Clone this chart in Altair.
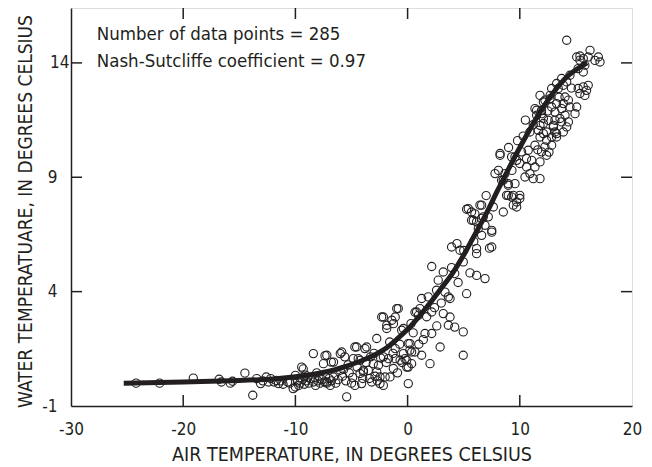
import altair as alt
import pandas as pd

# ---- observed points (air temperature, water temperature) ----
air_far_left = [-24.2, -22.1, -19.1, -16.8, -16.6, -15.8, -15.6, -14.5, -13.8, -13.45, -13.1, -12.6, -12.2,
                -11.9, -11.5, -11.1, -10.7, -12.9, -12.4, -11.7, -11.3, -10.5, -10.2, -10.0, -10.0]
water_far_left = [0.0, 0.0, 0.22, 0.17, 0.05, 0.0, 0.08, 0.44, -0.53, 0.2, -0.02, 0.27, 0.2,
                  0.05, -0.02, -0.05, 0.05, 0.1, 0.05, 0.12, 0.1, 0.0, -0.24, 0.34, -0.17]

air_cold = [-9.44, -9.3, -8.4, -7.36, -7.5, -6.8, -6.0, -9.8, -9.6, -9.4, -9.2, -9.0, -8.8, -8.6, -8.4, -8.2,
            -8.0, -7.8, -7.6, -7.4, -7.2, -7.0, -6.8, -6.6, -6.4, -6.2, -7.9, -8.9, -9.7, -6.9, -7.2, -6.6,
            -6.0, -7.2, -8.1, -9.1]
water_cold = [0.7, 0.62, 1.29, 1.2, 0.85, 0.92, 1.29, 0.1, 0.0, 0.15, -0.05, 0.1, 0.0, 0.2, 0.05, -0.1,
              0.1, 0.0, 0.15, 0.05, 0.0, 0.2, 0.1, 0.27, 0.0, 0.15, 0.3, 0.25, -0.1, -0.1, 0.05, 0.92,
              0.56, 1.22, 0.45, 0.35]

air_cool = [-5.87, -5.6, -5.43, -5.8, -5.5, -5.2, -5.0, -4.84, -4.7, -4.54, -4.7, -4.4, -4.24, -4.24, -4.1,
            -3.94, -3.94, -3.8, -3.65, -3.5, -3.4, -3.2, -3.06, -2.9, -2.75, -2.75, -2.6, -2.46, -2.46,
            -2.31, -2.16, -2.16, -2.16, -2.0, -1.86, -1.86, -1.7, -1.57, -1.4, -1.27, -1.26, -1.1, -1.1,
            -1.1, -0.97, -0.83, -0.67, -0.53, -0.38, -0.38, -0.23, -0.08, -0.08, -5.3, -4.9, -4.5, -3.7,
            -3.0, -2.7, -1.9, -1.3, -0.9, -0.5, -3.3, -4.0, -5.7, -2.4, -1.6, -0.7]
water_cool = [1.36, 1.15, -0.6, 0.3, 0.1, 0.45, 0.0, 1.07, 1.58, 1.58, -0.1, 1.07, 1.0, 0.42, -0.02,
              0.56, 0.49, 1.51, 1.58, 0.56, 0.2, 0.05, 0.85, 0.3, 1.95, 0.49, 0.78, 0.27, -0.02,
              2.89, 2.89, 1.15, -0.1, 0.27, 2.39, 2.53, 1.07, 0.27, 2.75, 0.64, 2.6, 2.89, 1.51,
              1.07, 3.26, 3.26, 1.0, 2.31, 2.39, 1.29, 1.07, 0.7, 1.0, 0.8, 0.25, 0.7, 0.9,
              1.3, 0.1, 0.9, 1.3, 0.45, 0.9, 1.15, 0.2, 0.6, 1.1, 1.8, 1.7]

air_mild = [0.06, 0.06, 0.06, 0.2, 0.21, 0.36, 0.36, 0.66, 0.66, 0.8, 0.97, 1.1, 1.25, 1.25, 1.55, 1.84,
            2.0, 2.15, 2.15, 2.15, 2.58, 2.73, 2.9, 3.18, 3.18, 3.33, 3.63, 3.63, 3.78, 3.78, 3.92, 3.92,
            0.5, 1.0, 1.7, 2.4, 3.0, 0.3, 1.4, 2.6]
water_mild = [-0.02, 0.7, 1.73, 1.44, 1.73, 1.36, 0.85, 1.36, 3.1, 3.11, 2.97, 3.26, 3.7, 1.22, 2.17, 3.77,
              0.85, 5.1, 3.11, 2.17, 4.06, 4.5, 1.58, 4.86, 3.04, 3.98, 3.77, 2.53, 3.7, 2.89, 5.95, 5.05,
              2.2, 1.7, 2.9, 3.3, 3.5, 2.6, 1.9, 2.5]

air_warm = [4.2, 4.2, 4.67, 4.96, 4.96, 4.96, 5.26, 5.26, 5.41, 5.56, 5.7, 5.7, 5.86, 6.0, 6.15, 6.15, 6.15,
            6.15, 6.3, 6.45, 6.6, 6.6, 6.6, 6.75, 6.9, 6.9, 7.19, 7.5, 7.5, 7.5, 7.64, 7.79, 4.5, 5.0,
            4.4, 7.0, 7.3, 5.9]
water_warm = [4.79, 2.45, 5.81, 5.3, 2.24, 1.22, 3.91, 7.6, 7.63, 4.82, 7.48, 7.12, 7.12, 7.4, 5.88, 5.66,
              4.71, 7.05, 6.76, 7.78, 6.46, 7.2, 7.78, 7.27, 6.9, 4.57, 7.27, 5.95, 6.6, 6.68, 7.7, 9.16,
              4.4, 5.8, 6.1, 8.2, 5.9, 6.2]

air_hot = [8.24, 8.24, 8.38, 8.53, 8.53, 8.68, 8.82, 8.97, 8.97, 8.97, 9.27, 9.27, 9.42, 9.42, 9.57, 9.57,
           9.72, 9.72, 9.72, 10.0, 10.0, 10.0, 10.16, 10.46, 10.6, 10.6, 10.75, 10.9, 10.9, 8.1, 9.0,
           9.8, 10.3, 10.5, 9.3]
water_hot = [10.04, 9.96, 8.87, 8.87, 7.48, 9.16, 8.21, 8.65, 8.72, 8.21, 9.89, 8.14, 8.21, 7.78, 9.89, 8.72,
             9.74, 7.92, 7.7, 8.07, 9.6, 8.21, 10.11, 9.01, 9.82, 9.45, 10.18, 10.98, 9.16, 9.3, 10.3,
             10.6, 10.8, 11.5, 9.3]

air_hottest = [11.06, 11.2, 11.35, 11.35, 11.35, 11.5, 11.5, 11.65, 11.8, 11.8, 11.8, 11.8, 11.8, 11.94,
               11.94, 11.94, 12.1, 12.1, 12.1, 12.1, 12.24, 12.24, 12.39, 12.39, 12.39, 12.54, 12.7, 12.7,
               12.84, 12.84, 12.84, 12.84, 12.99, 13.13, 13.13, 13.13, 13.28, 13.28, 13.28, 13.28, 13.43,
               13.58, 13.73, 13.73, 13.73, 13.88, 13.88, 13.88, 14.03, 14.03, 14.18, 14.18, 14.18, 14.33,
               14.33, 14.47, 14.47, 14.92, 15.07, 15.07, 15.2, 15.2, 15.36, 15.36, 15.36, 15.66, 15.66,
               15.66, 15.8, 15.8, 15.95, 16.1, 16.1, 16.26, 16.7, 17.0, 17.15, 12.5, 13.0, 11.6, 12.6,
               13.5, 14.6, 11.2]
water_hottest = [9.74, 8.94, 9.45, 10.4, 12.0, 11.93, 11.71, 11.05, 9.67, 8.94, 10.76, 11.27, 12.58, 10.11,
                 11.78, 11.93, 10.91, 12.29, 11.35, 11.57, 10.33, 12.37, 9.96, 10.98, 10.62, 11.49, 12.44,
                 12.58, 10.76, 10.4, 12.07, 12.88, 11.27, 11.85, 11.49, 10.98, 10.91, 12.22, 13.1, 10.76,
                 12.88, 11.57, 13.32, 12.0, 11.42, 13.02, 12.22, 10.98, 12.51, 11.71, 14.99, 13.17, 11.2,
                 12.37, 11.42, 13.46, 12.07, 11.78, 14.26, 12.07, 13.75, 12.88, 14.3, 14.12, 12.66, 14.19,
                 13.6, 12.95, 13.9, 12.58, 12.8, 14.26, 13.02, 14.55, 14.11, 14.26, 14.04, 11.9, 11.2,
                 10.2, 10.1, 12.5, 12.9, 11.3]

# ---- fitted curve ----
fit_air = [-25.3, -20, -15, -12, -10, -8, -7, -6, -5, -4, -3, -2, -1, 0, 1, 2, 3, 4, 5, 6, 7, 8, 10, 12, 14, 16]
fit_water = [0.0, 0.05, 0.12, 0.18, 0.28, 0.42, 0.52, 0.65, 0.82, 1.0, 1.22, 1.5, 1.9, 2.35, 2.9, 3.5, 4.15,
             4.8, 5.6, 6.5, 7.4, 8.4, 10.3, 12.0, 13.3, 14.0]

x_ticks = [-20, -10, 0, 10]
y_ticks = [4, 9, 14]
x_labels = [-30, -20, -10, 0, 10, 20]
y_labels = [-1, 4, 9, 14]

annotations = ["Number of data points = 285", "Nash-Sutcliffe coefficient = 0.97"]
ann_x = [-27.7, -27.7]
ann_y = [15.02, 13.84]

air = air_far_left + air_cold + air_cool + air_mild + air_warm + air_hot + air_hottest
water = water_far_left + water_cold + water_cool + water_mild + water_warm + water_hot + water_hottest
pts = pd.DataFrame({"air": air, "water": water})
fit = pd.DataFrame({"air": fit_air, "water": fit_water})

INK = "#231f20"
FONT = "Liberation Sans Narrow, DejaVu Sans Condensed, Arial Narrow, sans-serif"
W, H = 561, 398

xs = alt.Scale(domain=[-30, 20], nice=False, zero=False)
ys = alt.Scale(domain=[-1, 16.4], nice=False, zero=False)

x_axis = alt.Axis(values=x_labels, ticks=False, grid=False, labelPadding=15, labelFontSize=17,
                  labelExpr="'' + datum.value",
                  labelFont=FONT, labelColor=INK, domainColor=INK, domainWidth=1.5,
                  title="AIR TEMPERATURE, IN DEGREES CELSIUS", titleFont=FONT, titleFontSize=19.5,
                  titleFontWeight="normal", titleColor=INK, titleBaseline="alphabetic", titleY=54,
                  labelFlush=False)
y_axis = alt.Axis(values=y_labels, ticks=False, grid=False,
                  labelPadding=alt.ExprRef(expr="datum.value == 14 ? 2 : 14"),
                  labelExpr="'' + datum.value",
                  labelFontSize=17, labelFont=FONT, labelColor=INK, domainColor=INK, domainWidth=1.5,
                  title="WATER TEMPERATUARE, IN DEGREES CELSIUS", titleFont=FONT, titleFontSize=19,
                  titleFontWeight="normal", titleColor=INK, titleX=-46, titleY=H / 2 + 4,
                  titleBaseline="middle", titleAlign="center", labelFlush=False)

points = alt.Chart(pts).mark_point(shape="circle", filled=False, size=68, strokeWidth=1.1,
                                   color=INK, opacity=1).encode(
    x=alt.X("air:Q", scale=xs, axis=x_axis),
    y=alt.Y("water:Q", scale=ys, axis=y_axis),
)

line = alt.Chart(fit).mark_line(color=INK, strokeWidth=5, interpolate="monotone").encode(
    x=alt.X("air:Q", scale=xs), y=alt.Y("water:Q", scale=ys))

xt = pd.DataFrame({"v": x_ticks})
yt = pd.DataFrame({"v": y_ticks})
tick_style = dict(color=INK, strokeWidth=1.5)
tick_bottom = alt.Chart(xt).mark_rule(**tick_style).encode(
    x=alt.X("v:Q", scale=xs), y=alt.value(H - 11), y2=alt.value(H))
tick_top = alt.Chart(xt).mark_rule(**tick_style).encode(
    x=alt.X("v:Q", scale=xs), y=alt.value(0), y2=alt.value(11))
tick_left = alt.Chart(yt).mark_rule(**tick_style).encode(
    y=alt.Y("v:Q", scale=ys), x=alt.value(0), x2=alt.value(11))
tick_right = alt.Chart(yt).mark_rule(**tick_style).encode(
    y=alt.Y("v:Q", scale=ys), x=alt.value(W - 11), x2=alt.value(W))

ann = pd.DataFrame({"t": annotations, "x": ann_x, "y": ann_y})
text = alt.Chart(ann).mark_text(align="left", baseline="alphabetic", font=FONT, fontSize=18.5,
                                color=INK).encode(
    x=alt.X("x:Q", scale=xs), y=alt.Y("y:Q", scale=ys), text="t:N")

chart = alt.layer(line, points, tick_bottom, tick_top, tick_left, tick_right, text).properties(
    width=W, height=H,
    autosize=alt.AutoSizeParams(type="none"),
    padding={"left": 63, "top": 0, "right": 12, "bottom": 60},
).configure_view(stroke=INK, strokeWidth=1.5).configure(background="white")

chart.save("out.html", embed_options={"renderer": "svg", "actions": False})
